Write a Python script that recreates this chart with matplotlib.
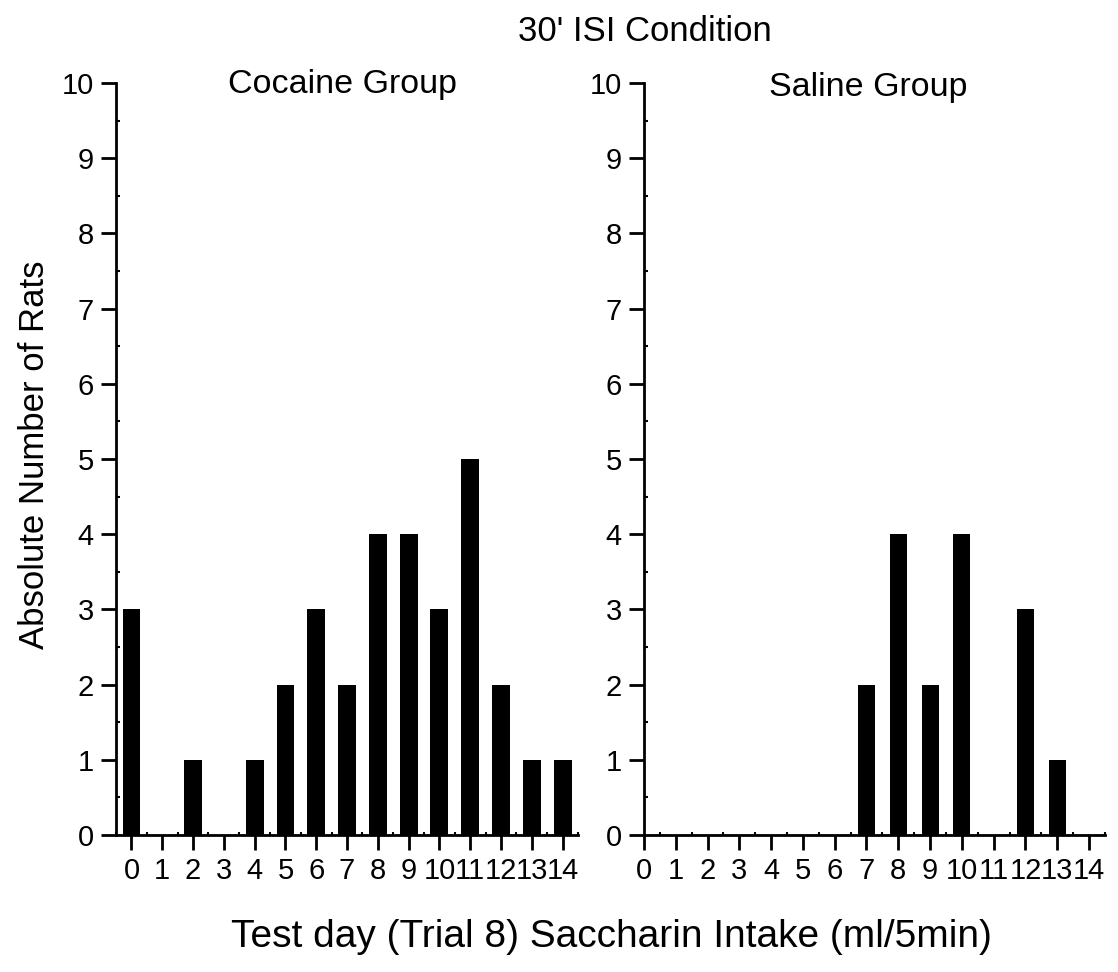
import matplotlib
matplotlib.use("Agg")
from matplotlib import pyplot as plt
from matplotlib.ticker import MultipleLocator

plt.rcParams['font.family'] = ['Liberation Sans', 'DejaVu Sans']

# 数据：每个摄入量档位的大鼠数量
intake = list(range(15))
cocaine_counts = [3, 0, 1, 0, 1, 2, 3, 2, 4, 4, 3, 5, 2, 1, 1]
saline_counts = [0, 0, 0, 0, 0, 0, 0, 2, 4, 2, 4, 0, 3, 1, 0]
tick_labels = [str(i) for i in intake]

fig = plt.figure(figsize=(11.18, 9.72), dpi=100)
ax1 = fig.add_axes([0.1038, 0.1409, 0.4132, 0.7737])
ax2 = fig.add_axes([0.576, 0.1409, 0.4123, 0.7737])


def style_axis(ax, xlim):
    ax.set_xlim(*xlim)
    ax.set_ylim(0, 10)
    for s in ['top', 'right']:
        ax.spines[s].set_visible(False)
    for s in ['left', 'bottom']:
        ax.spines[s].set_linewidth(2)
    ax.set_xticks(intake)
    ax.set_xticklabels(tick_labels)
    ax.yaxis.set_major_locator(MultipleLocator(1))
    ax.yaxis.set_minor_locator(MultipleLocator(0.5))
    ax.xaxis.set_minor_locator(MultipleLocator(0.5))
    ax.tick_params(which='major', direction='out', length=11, width=2,
                   labelsize=21, pad=5)
    ax.tick_params(which='minor', direction='in', length=3, width=1.5)
    ax.tick_params(axis='x', which='minor', length=2)


ax1.bar(intake, cocaine_counts, width=0.58, color='black', zorder=3)
ax1.axhline(0, color='black', lw=1, ls='--', zorder=2)
style_axis(ax1, (-0.5, 14.5))

ax2.bar(intake, saline_counts, width=0.53, color='black', zorder=3)
ax2.axhline(0, color='black', lw=1, ls='--', zorder=2)
style_axis(ax2, (0, 14.5))

fig.text(0.306, 0.913, 'Cocaine Group', ha='center', va='center', fontsize=24.5)
fig.text(0.777, 0.910, 'Saline Group', ha='center', va='center', fontsize=24.5)
fig.text(0.577, 0.968, "30' ISI Condition", ha='center', va='center', fontsize=25)
fig.text(0.031, 0.532, 'Absolute Number of Rats', rotation=90,
         ha='center', va='center', fontsize=25)
fig.text(0.547, 0.036, 'Test day (Trial 8) Saccharin Intake (ml/5min)',
         ha='center', va='center', fontsize=28)

fig.savefig('out.png', dpi=100)
